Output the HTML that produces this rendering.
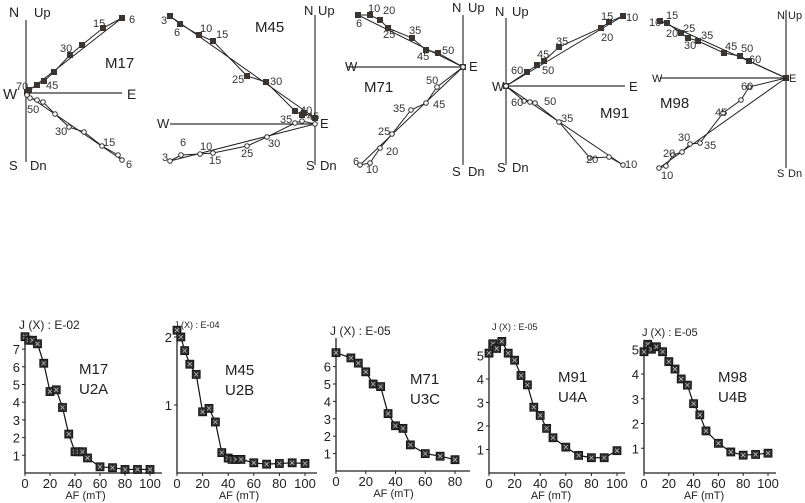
<!DOCTYPE html>
<html><head><meta charset="utf-8"><style>
body{margin:0;background:#fff}
svg{display:block;font-family:"Liberation Sans",sans-serif}
</style></head><body>
<svg id="fig" width="805" height="503" viewBox="0 0 805 503">
<g id="zij"></g>
<g id="dec"></g>
</svg>
<script>
// ---------- Intensity decay data ----------
const afSteps17=[0,3,6,10,15,20,25,30,35,40,43,46,50,60,70,80,90,100];
const j17=[7.7,7.5,7.5,7.3,6.2,4.6,4.7,3.7,2.2,1.2,1.2,1.2,0.85,0.35,0.3,0.2,0.2,0.2];
const afSteps45=[0,3,6,10,15,20,25,30,35,40,43,46,50,60,70,80,90,100];
const j45=[2.1,2.0,1.8,1.6,1.45,0.9,0.95,0.75,0.3,0.22,0.2,0.2,0.2,0.15,0.13,0.14,0.15,0.14];
const afSteps71=[0,10,15,20,25,30,35,40,45,50,60,70,80];
const j71=[6.8,6.5,6.2,5.7,5.0,4.85,3.3,2.6,2.45,1.5,1.0,0.85,0.65];
const afSteps91=[0,3,6,10,15,20,25,30,35,40,45,50,60,70,80,90,100];
const j91=[5.1,5.5,5.3,5.6,5.1,4.8,4.15,3.75,2.8,2.45,1.9,1.5,1.1,0.75,0.65,0.65,0.95];
const afSteps98=[0,3,6,10,15,20,25,30,35,40,45,50,60,70,80,90,100];
const j98=[4.9,5.2,5.0,5.1,4.9,4.5,4.2,3.8,3.55,2.8,2.35,1.7,1.2,0.85,0.72,0.75,0.8];
const xTicks100=[0,20,40,60,80,100];
const xTicks80=[0,20,40,60,80];
const yTicks17=[1,2,3,4,5,6,7];
const yTicks45=[1,2];
const yTicks71=[1,2,3,4,5,6];
const yTicks91=[1,2,3,4,5];
const yTicks98=[1,2,3,4,5];

// ---------- Zijderveld data (east, north/down components, arbitrary units) ----------
const z17H=[[96,75],[77,65],[56,48],[44,38],[28,21],[18,12],[11,8],[3,3],[1,1]];
const z17V=[[96,-67],[92,-62],[76,-53],[58,-39],[43,-34],[29,-21],[17,-9],[11,-7],[4,-5],[1,-2]];
const z45H=[[-145,108],[-135,100],[-116,89],[-102,83],[-68,48],[-49,42],[-20,13],[-13,9],[-11,11],[0,6]];
const z45V=[[-145,-37],[-134,-31],[-115,-30],[-102,-29],[-68,-22],[-48,-13],[-20,1],[-13,3],[0,0]];
const z71H=[[-105,52],[-93,52],[-83,47],[-75,39],[-51,29],[-37,17],[-25,14],[0,0]];
const z71V=[[-103,-98],[-93,-96],[-83,-81],[-71,-67],[-52,-43],[-37,-36],[-26,-20],[0,0]];
const z91H=[[117,70],[103,64],[95,58],[53,39],[38,25],[31,21],[21,14],[0,0]];
const z91V=[[117,-79],[103,-71],[84,-72],[53,-36],[29,-17],[24,-16],[18,-15],[0,0]];
const z98H=[[-126,57],[-119,55],[-105,45],[-98,40],[-88,37],[-62,25],[-46,22],[-37,17],[0,0]];
const z98V=[[-37,-9],[-45,-22],[-63,-35],[-86,-65],[-96,-66],[-104,-74],[-113,-77],[-120,-88],[-127,-90]];

const NS='http://www.w3.org/2000/svg';
function mk(parent,tag,attrs,text){const e=document.createElementNS(NS,tag);for(const k in attrs)e.setAttribute(k,attrs[k]);if(text!==undefined)e.textContent=text;parent.appendChild(e);return e;}

// ---------- decay charts ----------
const dec=document.getElementById('dec');
function decay(cfg){
  const g=mk(dec,'g',{});
  
  
  const sx=v=>cfg.x0+(v-0)*(cfg.x1-cfg.x0)/cfg.xmax;
  const sy=v=>cfg.y0-v*cfg.py;
  const ax=mk(g,'path',{d:`M${cfg.x0},${cfg.top}V${cfg.y0}H${cfg.xend}`,stroke:'#222','stroke-width':1.3,fill:'none'});
  
  cfg.yt.forEach(t=>{mk(g,'line',{x1:cfg.x0-3,x2:cfg.x0,y1:sy(t),y2:sy(t),stroke:'#222'});
    const tl=mk(g,'text',{x:cfg.x0-5,y:sy(t)+5,'text-anchor':'end','font-size':cfg.yfs||13,fill:'#222'},t);
    });
  cfg.xt.forEach(t=>{mk(g,'line',{x1:sx(t),x2:sx(t),y1:cfg.y0,y2:cfg.y0+3,stroke:'#222'});
    const tl=mk(g,'text',{x:sx(t),y:cfg.y0+15,'text-anchor':'middle','font-size':13,fill:'#222'},t);
    });
  const xl=mk(g,'text',{x:(cfg.x0+cfg.x1)/2-2,y:cfg.y0+26,'text-anchor':'middle','font-size':11,fill:'#222'},'AF (mT)');
  
  const tt=mk(g,'text',{x:cfg.tx,y:cfg.ty,'font-size':cfg.tfs,fill:'#222'},cfg.title);
  
  const l1=mk(g,'text',{x:cfg.lx,y:cfg.ly,'font-size':15,fill:'#222'},cfg.site);
  
  const l2=mk(g,'text',{x:cfg.lx,y:cfg.ly+20,'font-size':15,fill:'#222'},cfg.unit);
  
  const pts=cfg.xs.map((v,i)=>sx(v)+','+sy(cfg.ys[i])).join(' ');
  const pl=mk(g,'polyline',{points:pts,fill:'none',stroke:'#111','stroke-width':1.2});
  
  cfg.xs.forEach((v,i)=>{const x=sx(v),y=sy(cfg.ys[i]);
    const r=mk(g,'rect',{x:x-4,y:y-4,width:8,height:8,fill:'#2e2e2e',stroke:'#111','stroke-width':0.8});
    
    mk(g,'path',{d:`M${x-2},${y-2}L${x+2},${y+2}M${x+2},${y-2}L${x-2},${y+2}`,stroke:'#bbb','stroke-width':0.8});});
}
decay({id:'m17',x0:25,x1:150,xmax:100,xend:162,y0:473,top:333,py:17.7,yt:yTicks17,xt:xTicks100,xs:afSteps17,ys:j17,title:'J (X) : E-02',tx:19,ty:329,tfs:12,site:'M17',unit:'U2A',lx:79,ly:374});
decay({id:'m45',x0:177,x1:305,xmax:100,xend:317,y0:473,top:333,py:68,yt:yTicks45,xt:xTicks100,xs:afSteps45,ys:j45,title:'J (X) : E-04',tx:174,ty:328,tfs:9,site:'M45',unit:'U2B',lx:225,ly:375,yfs:13});
decay({id:'m71',x0:336,x1:455,xmax:80,xend:470,y0:471,top:338,py:17.4,yt:yTicks71,xt:xTicks80,xs:afSteps71,ys:j71,title:'J (X) : E-05',tx:330,ty:335,tfs:12,site:'M71',unit:'U3C',lx:410,ly:384});
decay({id:'m91',x0:489,x1:617,xmax:100,xend:625,y0:473,top:340,py:23.5,yt:yTicks91,xt:xTicks100,xs:afSteps91,ys:j91,title:'J (X) : E-05',tx:492,ty:330,tfs:9,site:'M91',unit:'U4A',lx:558,ly:382});
decay({id:'m98',x0:644,x1:768,xmax:100,xend:776,y0:473,top:342,py:24.75,yt:yTicks98,xt:xTicks100,xs:afSteps98,ys:j98,title:'J (X) : E-05',tx:642,ty:336,tfs:11,site:'M98',unit:'U4B',lx:718,ly:382});

// ---------- Zijderveld diagrams ----------
const zij=document.getElementById('zij');
function zd(cfg){
  const g=mk(zij,'g',{});
  
  
  const px=v=>cfg.ox+v, py=v=>cfg.oy-v;
  mk(g,'line',{x1:cfg.vx,x2:cfg.vx,y1:cfg.vt,y2:cfg.vb,stroke:'#333','stroke-width':1.2});
  mk(g,'line',{x1:cfg.hl,x2:cfg.hr,y1:cfg.oy,y2:cfg.oy,stroke:'#333','stroke-width':1.2});
  cfg.labels.forEach(l=>{const t=mk(g,'text',{x:l[1],y:l[2],'font-size':l[3]||13,fill:'#222'},l[0]);
    });
  const st=mk(g,'text',{x:cfg.sx,y:cfg.sy,'font-size':15,fill:'#222'},cfg.id.toUpperCase());
  
  [[cfg.H,'horizontal'],[cfg.V,'vertical']].forEach(([arr,kind])=>{
    const pts=arr.map(p=>px(p[0])+','+py(p[1])).join(' ');
    const pl=mk(g,'polyline',{points:pts,fill:'none',stroke:'#222','stroke-width':1});
    
    const f=arr[0],l=cfg.fitOrigin&&kind==='vertical'?[0,0]:arr[arr.length-1];
    const fl=mk(g,'line',{x1:px(f[0]),y1:py(f[1]),x2:px(l[0]),y2:py(l[1]),stroke:'#222','stroke-width':1});
    
    if(cfg.fitOrigin&&kind==='vertical'){const la=arr[arr.length-1];
      mk(g,'line',{x1:px(la[0]),y1:py(la[1]),x2:px(0),y2:py(0),stroke:'#222','stroke-width':1});}
    arr.forEach(p=>{
      if(kind==='horizontal'){const r=mk(g,'rect',{x:px(p[0])-3,y:py(p[1])-3,width:6,height:6,fill:'#3a3530'});
        }
      else{const c=mk(g,'circle',{cx:px(p[0]),cy:py(p[1]),r:2.3,fill:'#fff',stroke:'#333','stroke-width':1});
        }
    });
  });
  cfg.steps.forEach(s=>{const t=mk(g,'text',{x:s[1],y:s[2],'font-size':11,fill:'#333'},s[0]);
    });
}
zd({id:'m17',ox:26,oy:93,vx:26,vt:20,vb:162,hl:26,hr:122,H:z17H,V:z17V,sx:105,sy:68,
  labels:[['N',9,17,14],['Up',34,17,13],['S',9,170,13],['Dn',30,170,13],['W',3,99,15],['E',127,99,14]],
  steps:[['6',129,23],['15',93,27],['30',60,52],['45',46,89],['70',16,90],['50',27,113],['30',55,135],['15',103,146],['6',126,168]]});
zd({id:'m45',ox:315,oy:124,vx:315,vt:15,vb:165,hl:170,hr:315,H:z45H,V:z45V,sx:255,sy:32,
  labels:[['N',304,15],['Up',318,15],['S',306,170],['Dn',320,170],['W',157,128],['E',320,128]],
  steps:[['3',161,24],['6',174,36],['10',200,32],['15',216,38],['25',232,83],['30',270,85],['40',300,114],['45',307,120],['35',280,123],['3',162,161],['6',180,146],['10',200,150],['15',209,164],['25',241,157],['30',268,147]]});
zd({id:'m71',ox:463,oy:67,vx:463,vt:15,vb:165,hl:347,hr:463,H:z71H,V:z71V,sx:364,sy:92,
  labels:[['N',452,12],['Up',468,12],['S',452,176],['Dn',468,176],['W',345,71],['E',469,71]],
  steps:[['6',356,27],['10',368,12],['20',383,14],['25',383,38],['35',409,34],['45',417,60],['50',442,54],['50',426,84],['45',433,108],['35',393,112],['25',378,135],['20',386,155],['6',353,165],['10',366,173]]});
zd({id:'m91',ox:506,oy:86,vx:506,vt:18,vb:165,hl:506,hr:625,H:z91H,V:z91V,sx:600,sy:118,
  labels:[['N',495,16],['Up',512,16],['S',497,172],['Dn',512,172],['W',492,91],['E',629,91]],
  steps:[['10',626,21],['15',601,20],['20',601,41],['35',556,45],['45',537,58],['50',542,74],['60',511,74],['60',511,106],['50',544,105],['35',561,122],['20',586,163],['10',625,168]]});
zd({id:'m98',ox:786,oy:78,vx:786,vt:10,vb:168,hl:660,hr:786,H:z98H,V:z98V,sx:660,sy:108,fitOrigin:true,
  labels:[['N',777,19,11],['Up',788,19,11],['S',777,177,11],['Dn',788,177,11],['W',652,82,11],['E',789,82,11]],
  steps:[['10',649,26],['15',666,19],['25',683,32],['20',666,37],['30',684,49],['35',701,39],['45',725,50],['50',741,52],['60',749,63],['60',741,90],['45',715,116],['30',678,141],['35',704,149],['20',663,157],['10',661,179]]});
</script>
</body></html>
